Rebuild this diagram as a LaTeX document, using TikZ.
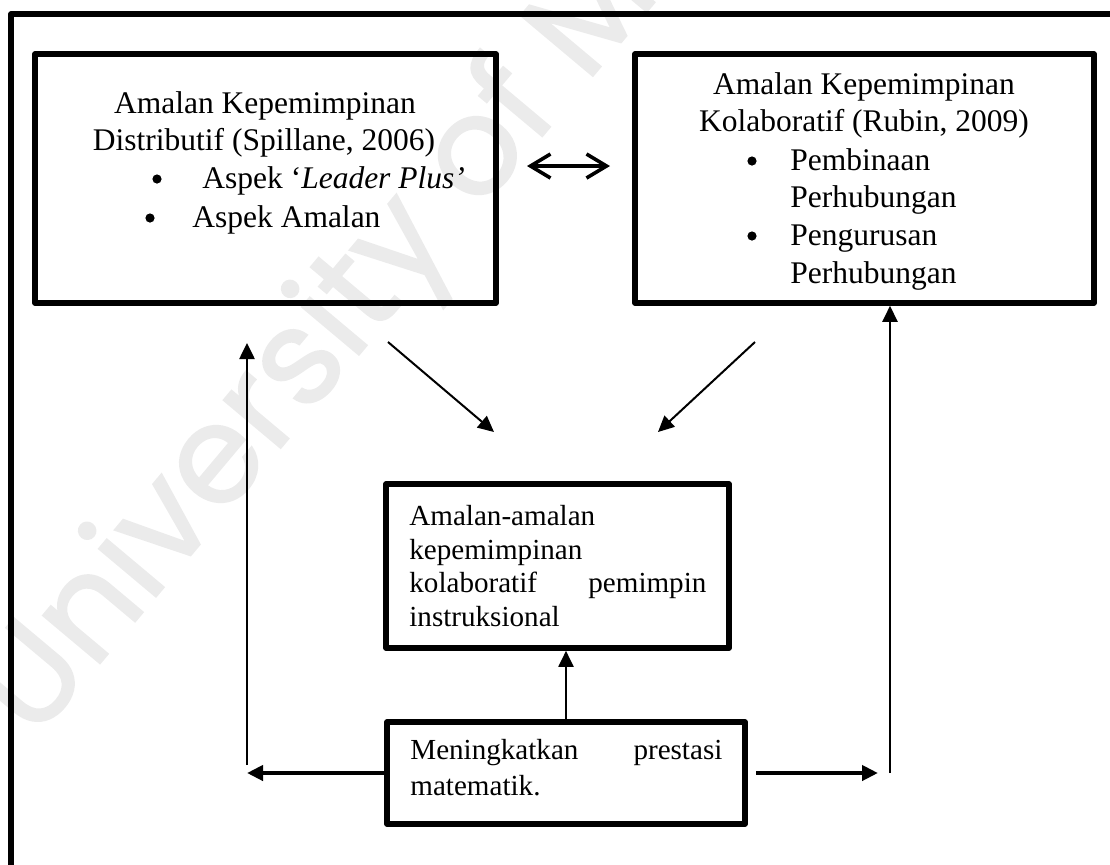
\documentclass[tikz,border=0pt]{standalone}
\usepackage{fontspec}
\setmainfont{Liberation Serif}
\newfontfamily\wmfont{Poppins}[FakeBold=1.3]
\usetikzlibrary{arrows.meta}
\begin{document}
\begin{tikzpicture}[x=0.5pt,y=-0.5pt,
  box/.style={draw, line width=2.8pt, line join=round, inner sep=0pt},
  frameline/.style={line width=2.8pt, line join=round},
  bigtxt/.style={font=\fontsize{15.75pt}{18.7pt}\selectfont, inner sep=0pt, anchor=base},
  smalltxt/.style={font=\fontsize{14.55pt}{17.25pt}\selectfont, inner sep=0pt, anchor=base west},
  bulletdot/.style={circle, fill, inner sep=0pt, minimum size=4.6pt},
  slimarrow/.style={line width=1pt, -{Triangle[length=8pt,width=7.5pt]}},
  midarrow/.style={line width=1.3pt, -{Triangle[length=8pt,width=7.5pt]}},
  heavyarrow/.style={line width=2.2pt, -{Triangle[length=8pt,width=7.5pt]}},
  twoway/.style={line width=1.8pt, {Straight Barb[length=10pt,width=12pt]}-{Straight Barb[length=10pt,width=12pt]}},
  wmark/.style={font=\wmfont\fontsize{68pt}{72pt}\selectfont, text=black!8, inner sep=0pt}
]
\useasboundingbox (0,0) rectangle (1110,864);

% faint watermark behind everything
\node[wmark, rotate=50, anchor=base west] (wm) at (34,742) {University of Malaya};

% outer frame (open to the right and bottom)
\draw[frameline] (11,880) -- (11,14) -- (1125,14);

% boxes
\node[box, minimum width=230.5pt, minimum height=124.5pt] (lbox) at (265.5,178.5) {};
\node[box, minimum width=229.5pt, minimum height=124.5pt] (rbox) at (864.5,178.5) {};
\node[box, minimum width=171.5pt, minimum height=82pt] (mbox) at (557.5,566) {};
\node[box, minimum width=179pt, minimum height=51pt] (bbox) at (566,773) {};

% left box text
\node[bigtxt] (l1) at (265,113) {Amalan Kepemimpinan};
\node[bigtxt] (l2) at (264,150) {Distributif (Spillane, 2006)};
\node[bulletdot] (lb1) at (157,179) {};
\node[bigtxt, anchor=base west] (l3) at (202,188) {Aspek ‘\textit{Leader Plus’}};
\node[bulletdot] (lb2) at (150,218) {};
\node[bigtxt, anchor=base west] (l4) at (192,227) {Aspek Amalan};

% right box text
\node[bigtxt] (r1) at (864,94) {Amalan Kepemimpinan};
\node[bigtxt] (r2) at (864,131) {Kolaboratif (Rubin, 2009)};
\node[bulletdot] (rb1) at (752,161) {};
\node[bigtxt, anchor=base west] (r3) at (790,170) {Pembinaan};
\node[bigtxt, anchor=base west] (r4) at (790,207) {Perhubungan};
\node[bulletdot] (rb2) at (752,236) {};
\node[bigtxt, anchor=base west] (r5) at (790,245) {Pengurusan};
\node[bigtxt, anchor=base west] (r6) at (790,283) {Perhubungan};

% middle box text
\node[smalltxt] (m1) at (409,525) {Amalan-amalan};
\node[smalltxt] (m2) at (409,559) {kepemimpinan};
\node[smalltxt] (m3) at (409,592.5) {\hbox to 148.5pt{kolaboratif\hfill pemimpin}};
\node[smalltxt] (m4) at (409,626) {instruksional};

% bottom box text
\node[smalltxt] (b1) at (410,759) {\hbox to 156pt{Meningkatkan\hfill prestasi}};
\node[smalltxt] (b2) at (410,795) {matematik.};

% free ends of the connectors
\coordinate (dblL) at (527,166);
\coordinate (dblR) at (610,166);
\coordinate (dlStart) at (388,342);
\coordinate (dlEnd) at (494,432);
\coordinate (drStart) at (755,342);
\coordinate (drEnd) at (658,432);
\coordinate (lhEnd) at (247,773);
\coordinate (lvBottom) at (247,765);
\coordinate (lvTop) at (247,343);
\coordinate (rhStart) at (756,773);
\coordinate (rhEnd) at (878,773);
\coordinate (rvBottom) at (890,773);

% connectors
\draw[twoway] (dblL) -- (dblR);
\draw[slimarrow] (dlStart) -- (dlEnd);
\draw[slimarrow] (drStart) -- (drEnd);
\draw[slimarrow] (bbox.north) -- (bbox.north |- mbox.south);
\draw[heavyarrow] (bbox.west |- lhEnd) -- (lhEnd);
\draw[midarrow] (lvBottom) -- (lvTop);
\draw[heavyarrow] (rhStart) -- (rhEnd);
\draw[midarrow] (rvBottom) -- (rvBottom |- rbox.south);
\end{tikzpicture}
\end{document}
